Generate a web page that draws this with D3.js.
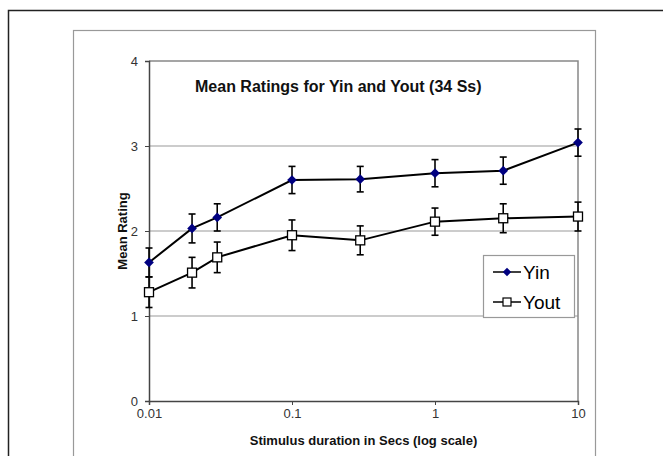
<!DOCTYPE html>
<html lang="en">
<head>
    <meta charset="UTF-8">
    <title>Mean Ratings for Yin and Yout</title>
    <script src="https://d3js.org/d3.v7.min.js"></script>
    <style>
        body { margin: 0; background: #fff; }
        svg text { font-family: Arial, "Liberation Sans", sans-serif; }
        .tick-label { font-size: 13px; fill: #333; }
        .axis-title { font-size: 13px; font-weight: bold; fill: #111; }
    </style>
</head>
<body>
    <div id="chart"></div>

    <script>
        // stimulus durations (secs) and mean ratings with error bar half-widths
        const durations = [0.01, 0.02, 0.03, 0.1, 0.3, 1, 3, 10];
        const yinMeans = [1.63, 2.03, 2.16, 2.60, 2.61, 2.68, 2.71, 3.04];
        const yinErr = [0.17, 0.17, 0.16, 0.16, 0.15, 0.16, 0.16, 0.16];
        const youtMeans = [1.28, 1.51, 1.69, 1.95, 1.89, 2.11, 2.15, 2.17];
        const youtErr = [0.18, 0.18, 0.18, 0.18, 0.17, 0.16, 0.17, 0.17];
        const xTicks = [0.01, 0.1, 1, 10];
        const yTicks = [0, 1, 2, 3, 4];
        const seriesNames = ["Yin", "Yout"];

        const W = 663, H = 456;
        const plot = { left: 149, right: 578, top: 61, bottom: 401 };

        const svg = d3.select("#chart").append("svg")
            .attr("width", W)
            .attr("height", H);

        // outer and inner frames
        svg.append("rect")
            .attr("x", 8.5).attr("y", 10.5)
            .attr("width", 700).attr("height", 500)
            .attr("fill", "none").attr("stroke", "#222").attr("stroke-width", 1.5);
        svg.append("rect")
            .attr("x", 73.5).attr("y", 30.5)
            .attr("width", 522).attr("height", 480)
            .attr("fill", "none").attr("stroke", "#999").attr("stroke-width", 1.2);

        const x = d3.scaleLog().domain([0.01, 10]).range([plot.left, plot.right]);
        const y = d3.scaleLinear().domain([0, 4]).range([plot.bottom, plot.top]);

        // gridlines
        svg.append("g")
            .selectAll("line")
            .data(yTicks.filter(v => v > 0 && v < 4))
            .enter().append("line")
            .attr("x1", plot.left).attr("x2", plot.right)
            .attr("y1", d => y(d)).attr("y2", d => y(d))
            .attr("stroke", "#999").attr("stroke-width", 1.2);

        // plot border top/right
        svg.append("path")
            .attr("d", `M${plot.left},${plot.top}H${plot.right}V${plot.bottom}`)
            .attr("fill", "none").attr("stroke", "#888").attr("stroke-width", 1.5);

        // axes
        const yAxis = svg.append("g")
            .attr("transform", `translate(${plot.left},0)`)
            .call(d3.axisLeft(y).tickValues(yTicks).tickSize(4).tickPadding(7).tickFormat(d3.format("d")));
        const xAxis = svg.append("g")
            .attr("transform", `translate(0,${plot.bottom})`)
            .call(d3.axisBottom(x).tickValues(xTicks).tickSize(4).tickPadding(4).tickFormat(d => String(d)));

        [yAxis, xAxis].forEach(a => {
            a.select(".domain").attr("stroke", "#444").attr("stroke-width", 1.5);
            a.selectAll(".tick line").attr("stroke", "#444");
            a.selectAll(".tick text").attr("class", "tick-label").attr("font-size", null).attr("font-family", null);
        });

        // axis titles and chart title
        svg.append("text")
            .attr("class", "axis-title")
            .attr("transform", `translate(127,${(plot.top + plot.bottom) / 2}) rotate(-90)`)
            .attr("text-anchor", "middle")
            .text("Mean Rating");
        svg.append("text")
            .attr("class", "axis-title")
            .attr("x", (plot.left + plot.right) / 2).attr("y", 445)
            .attr("text-anchor", "middle")
            .text("Stimulus duration in Secs (log scale)");
        svg.append("text")
            .attr("x", 195).attr("y", 92)
            .attr("font-size", "16px").attr("font-weight", "bold").attr("fill", "#111")
            .text("Mean Ratings for Yin and Yout (34 Ss)");

        const series = [
            { name: seriesNames[0], means: yinMeans, err: yinErr },
            { name: seriesNames[1], means: youtMeans, err: youtErr }
        ];

        const line = d3.line().x(d => x(d.t)).y(d => y(d.m));

        series.forEach((s, si) => {
            const pts = durations.map((t, i) => ({ t, m: s.means[i], e: s.err[i] }));
            const g = svg.append("g");

            g.append("path")
                .datum(pts)
                .attr("d", line)
                .attr("fill", "none").attr("stroke", "#000").attr("stroke-width", 2);

            const eb = g.selectAll(".err").data(pts).enter().append("g");
            eb.append("line")
                .attr("x1", d => x(d.t)).attr("x2", d => x(d.t))
                .attr("y1", d => y(d.m - d.e)).attr("y2", d => y(d.m + d.e))
                .attr("stroke", "#000").attr("stroke-width", 1.6);
            [-1, 1].forEach(sign => {
                eb.append("line")
                    .attr("x1", d => x(d.t) - 3.5).attr("x2", d => x(d.t) + 3.5)
                    .attr("y1", d => y(d.m + sign * d.e)).attr("y2", d => y(d.m + sign * d.e))
                    .attr("stroke", "#000").attr("stroke-width", 1.6);
            });

            if (si === 0) {
                g.selectAll(".mk").data(pts).enter().append("path")
                    .attr("d", d3.symbol().type(d3.symbolDiamond2).size(60))
                    .attr("transform", d => `translate(${x(d.t)},${y(d.m)})`)
                    .attr("fill", "#000080");
            } else {
                g.selectAll(".mk").data(pts).enter().append("rect")
                    .attr("x", d => x(d.t) - 4.5).attr("y", d => y(d.m) - 4.5)
                    .attr("width", 9).attr("height", 9)
                    .attr("fill", "#fff").attr("stroke", "#000").attr("stroke-width", 1.3);
            }
        });

        // legend
        const lg = svg.append("g").attr("transform", "translate(483,255)");
        lg.append("rect")
            .attr("x", 0.5).attr("y", 0.5).attr("width", 91).attr("height", 62)
            .attr("fill", "#fff").attr("stroke", "#999").attr("stroke-width", 1.2);
        seriesNames.forEach((name, i) => {
            const cy = 17 + i * 30;
            lg.append("line")
                .attr("x1", 10).attr("x2", 38).attr("y1", cy).attr("y2", cy)
                .attr("stroke", "#000").attr("stroke-width", 1.5);
            if (i === 0) {
                lg.append("path")
                    .attr("d", d3.symbol().type(d3.symbolDiamond2).size(45))
                    .attr("transform", `translate(24,${cy})`)
                    .attr("fill", "#000080");
            } else {
                lg.append("rect")
                    .attr("x", 20).attr("y", cy - 4).attr("width", 8).attr("height", 8)
                    .attr("fill", "#fff").attr("stroke", "#000").attr("stroke-width", 1.2);
            }
            lg.append("text")
                .attr("x", 40).attr("y", cy + 6.5)
                .attr("font-size", "19px").attr("fill", "#000")
                .text(name);
        });
    </script>
</body>
</html>
